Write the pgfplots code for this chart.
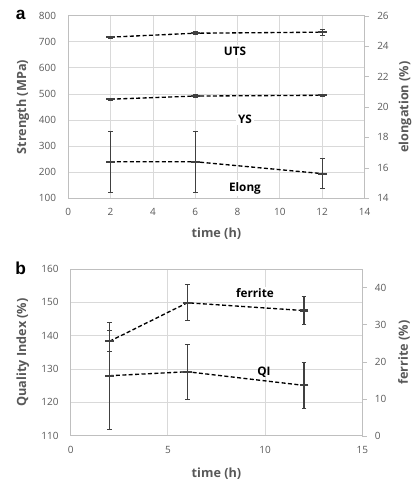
\documentclass[border=0pt]{standalone}
\usepackage{fontspec}
\setmainfont{Open Sans}
\newfontfamily\letterfont{Liberation Sans}
\usepackage{pgfplots}
\usepackage{pgfplotstable}
\pgfplotsset{compat=1.18}

\definecolor{ticktext}{HTML}{595959}
\definecolor{gridc}{HTML}{D9D9D9}
\definecolor{axisc}{HTML}{BFBFBF}
\definecolor{barc}{HTML}{404040}

% time, UTS, YS (MPa), elongation (%)
\pgfplotstableread{
t uts utse ys yse el ele
2 718 4 480 4 16.4 2.0
6 733 5 492 4 16.4 2.0
12 737 12 495 4 15.62 1.0
}\tensile

% time, quality index (%), ferrite (%)
\pgfplotstableread{
t qi qie fe fee
2 128.0 16.0 25.5 2.8
6 129.2 8.2 35.9 4.9
12 125.1 7.0 33.8 3.8
}\micro

\tikzset{ann/.style={font=\bfseries\fontsize{8.8}{10}\selectfont, fill=white, inner sep=1.5pt}}

\pgfplotsset{
  /pgf/number format/assume math mode=true,
  xl/.style={scale only axis,
    axis line style={draw=axisc},
    tick label style={font=\fontsize{7.5}{8.5}\selectfont, text=ticktext},
    label style={font=\bfseries\fontsize{9.5}{11}\selectfont, text=ticktext},
    major tick length=0pt,
    xticklabel style={yshift=-4.2pt},
    yticklabel style={xshift=-5.6pt},
    grid=major, grid style={gridc, line width=0.6pt},
  },
  xr/.style={scale only axis,
    axis x line=none, axis y line*=right,
    axis line style={draw=axisc},
    tick label style={font=\fontsize{7.5}{8.5}\selectfont, text=ticktext},
    tick align=outside, major tick length=3.5pt,
    ytick style={draw=axisc},
    yticklabel style={xshift=2.5pt},
  },
  rlab/.style={every axis y label/.style={at={(axis description cs:#1,0.5)}, rotate=90, anchor=center,
    font=\bfseries\fontsize{9.5}{11}\selectfont, text=ticktext}},
  ser/.style={black, line width=1pt, dash pattern=on 3pt off 1.8pt,
    mark=-, mark size=3.3pt, mark options={solid, draw=barc, line width=1.6pt},
    error bars/.cd, y dir=both, y explicit,
    error bar style={solid, draw=barc, line width=0.9pt},
    error mark options={solid, draw=barc, line width=0.8pt, rotate=90, mark size=1.8pt}},
}

\begin{document}
\begin{tikzpicture}
\useasboundingbox (0,0) rectangle (308.25pt,-360.75pt);

% ---- panel a ----
\begin{axis}[xl, at={(51.2pt,-148.7pt)}, anchor=south west,
  width=222.2pt, height=136.9pt,
  xmin=0, xmax=14, xtick={0,2,...,14},
  ymin=100, ymax=800, ytick={100,200,...,800},
  xlabel={time (h)}, ylabel={Strength (MPa)},
  xlabel style={at={(axis description cs:0.5,-0.196)}, anchor=center},
  ylabel style={at={(axis description cs:-0.153,0.5)}, anchor=center}]
  \addplot[ser] table[x=t, y=uts, y error=utse]{\tensile};
  \addplot[ser] table[x=t, y=ys, y error=yse]{\tensile};
  \node[ann] at (axis cs:7.88,662) {UTS};
  \node[ann] at (axis cs:8.35,404) {YS};
  \node[ann] at (axis cs:8.35,138) {Elong};
\end{axis}
\begin{axis}[xr, rlab=1.137, at={(51.2pt,-148.7pt)}, anchor=south west,
  width=222.2pt, height=136.9pt,
  xmin=0, xmax=14,
  ymin=14, ymax=26, ytick={14,16,...,26},
  ylabel={elongation (\%)}]
  \addplot[ser] table[x=t, y=el, y error=ele]{\tensile};
\end{axis}

% ---- panel b ----
\begin{axis}[xl, at={(53.0pt,-326.8pt)}, anchor=south west,
  width=218.7pt, height=125.0pt,
  xmin=0, xmax=15, xtick={0,5,10,15},
  ymin=110, ymax=160, ytick={110,120,...,160},
  xlabel={time (h)}, ylabel={Quality Index (\%)},
  xlabel style={at={(axis description cs:0.5,-0.23)}, anchor=center},
  ylabel style={at={(axis description cs:-0.164,0.5)}, anchor=center}]
  \addplot[ser] table[x=t, y=qi, y error=qie]{\micro};
  \node[ann] at (axis cs:9.48,152.8) {ferrite};
  \node[ann, fill=none] at (axis cs:9.94,129.0) {QI};
\end{axis}
\begin{axis}[xr, rlab=1.143, at={(53.0pt,-326.8pt)}, anchor=south west,
  width=218.7pt, height=125.0pt,
  xmin=0, xmax=15,
  ymin=0, ymax=45, ytick={0,10,...,40},
  ylabel={ferrite (\%)}]
  \addplot[ser] table[x=t, y=fe, y error=fee]{\micro};
\end{axis}

\node[font=\letterfont\bfseries\fontsize{13}{14}\selectfont, anchor=center] at (15.5pt,-11.5pt) {a};
\node[font=\letterfont\bfseries\fontsize{13}{14}\selectfont, anchor=center] at (15.5pt,-201.5pt) {b};
\end{tikzpicture}
\end{document}
